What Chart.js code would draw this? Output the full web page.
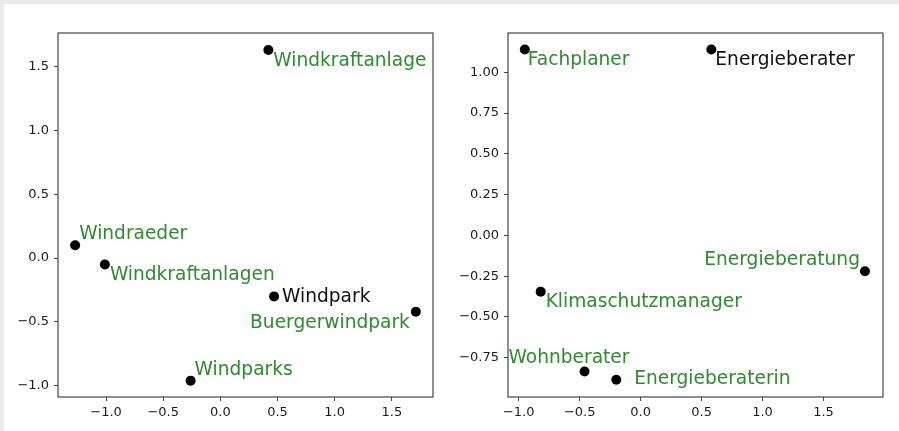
<!DOCTYPE html>
<html>
<head>
<meta charset="utf-8">
<script src="https://cdn.jsdelivr.net/npm/chart.js@4.4.1/dist/chart.umd.min.js"></script>
<style>
  html, body { margin: 0; padding: 0; background: #ebebeb; }
  #page { position: absolute; left: 4px; top: 4px; width: 895px; height: 427px; background: #fff; }
  .box { position: absolute; top: 0; height: 431px; }
  #left-box { left: 0; width: 450px; }
  #right-box { left: 450px; width: 449px; }
</style>
</head>
<body>
<div id="page"></div>
<div class="box" id="left-box"><canvas id="wind-chart"></canvas></div>
<div class="box" id="right-box"><canvas id="energy-chart"></canvas></div>
<script>
// Left panel: wind words
const windWords = ['Windkraftanlage', 'Windraeder', 'Windkraftanlagen', 'Windpark', 'Buergerwindpark', 'Windparks'];
const windX = [0.42, -1.27, -1.01, 0.47, 1.71, -0.26];
const windY = [1.63, 0.10, -0.05, -0.30, -0.42, -0.96];
const windXTicks = [-1.0, -0.5, 0.0, 0.5, 1.0, 1.5];
const windYTicks = [-1.0, -0.5, 0.0, 0.5, 1.0, 1.5];

// Right panel: energy advisor words
const energyWords = ['Fachplaner', 'Energieberater', 'Energieberatung', 'Klimaschutzmanager', 'Wohnberater', 'Energieberaterin'];
const energyX = [-0.95, 0.58, 1.84, -0.82, -0.46, -0.20];
const energyY = [1.14, 1.14, -0.22, -0.345, -0.835, -0.885];
const energyXTicks = [-1.0, -0.5, 0.0, 0.5, 1.0, 1.5];
const energyYTicks = [-0.75, -0.50, -0.25, 0.00, 0.25, 0.50, 0.75, 1.00];

// label placement (pixel offsets from the point, alignment, colour)
const GREEN = '#2e8b2e';
const windLabelStyle = [
  { dx: 5, dy: 16, align: 'left', color: GREEN },
  { dx: 4, dy: -6, align: 'left', color: GREEN },
  { dx: 5, dy: 16, align: 'left', color: GREEN },
  { dx: 8, dy: 6, align: 'left', color: '#111' },
  { dx: -6, dy: 16, align: 'right', color: GREEN },
  { dx: 4, dy: -6, align: 'left', color: GREEN }
];
const energyLabelStyle = [
  { dx: 3, dy: 16, align: 'left', color: GREEN },
  { dx: 4, dy: 16, align: 'left', color: '#111' },
  { dx: -5, dy: -6, align: 'right', color: GREEN },
  { dx: 5, dy: 15, align: 'left', color: GREEN },
  { dx: -76, dy: -9, align: 'left', color: GREEN },
  { dx: 18, dy: 4, align: 'left', color: GREEN }
];

const FONT = "'DejaVu Sans', sans-serif";

function fmt(decimals) {
  return v => Number(v).toFixed(decimals).replace('-', '\u2212');
}

// frame around the plot area + word labels
const framePlugin = {
  id: 'frame',
  afterDatasetsDraw(chart) {
    const { ctx, chartArea: a } = chart;
    ctx.save();
    ctx.strokeStyle = '#444';
    ctx.lineWidth = 1.2;
    ctx.strokeRect(a.left, a.top, a.right - a.left, a.bottom - a.top);
    ctx.restore();
  },
  afterDraw(chart) {
    const opts = chart.options.plugins.frame;
    const { ctx } = chart;
    const xs = chart.scales.x, ys = chart.scales.y;
    ctx.save();
    ctx.font = '18.6px ' + FONT;
    ctx.textBaseline = 'alphabetic';
    opts.words.forEach((w, i) => {
      const s = opts.styles[i];
      const px = xs.getPixelForValue(opts.xs[i]);
      const py = ys.getPixelForValue(opts.ys[i]);
      ctx.fillStyle = s.color;
      ctx.textAlign = s.align;
      ctx.fillText(w, px + s.dx, py + s.dy);
    });
    ctx.restore();
  }
};

function makeChart(id, words, xs, ys, xTicks, yTicks, styles, lim, yDec) {
  const ctx = document.getElementById(id);
  return new Chart(ctx.getContext('2d'), {
    type: 'scatter',
    data: {
      datasets: [{
        data: xs.map((x, i) => ({ x: x, y: ys[i] })),
        backgroundColor: '#000',
        borderWidth: 0,
        pointRadius: 5,
        pointHoverRadius: 5
      }]
    },
    options: {
      responsive: true,
      maintainAspectRatio: false,
      animation: false,
      events: [],
      layout: { padding: { top: 33, right: lim.padRight, left: 0, bottom: 0 } },
      plugins: {
        legend: { display: false },
        tooltip: { enabled: false },
        frame: { words: words, xs: xs, ys: ys, styles: styles }
      },
      scales: {
        x: {
          type: 'linear',
          min: lim.xMin, max: lim.xMax,
          afterBuildTicks: s => { s.ticks = xTicks.map(v => ({ value: v })); },
          afterFit: s => { s.height = 34; },
          border: { display: false },
          grid: { drawOnChartArea: false, drawTicks: true, tickLength: 4, tickWidth: 1, color: '#444' },
          ticks: { color: '#1a1a1a', font: { family: FONT, size: 13 }, padding: 4, maxRotation: 0, callback: fmt(1) }
        },
        y: {
          type: 'linear',
          min: lim.yMin, max: lim.yMax,
          afterBuildTicks: s => { s.ticks = yTicks.map(v => ({ value: v })); },
          afterFit: s => { s.width = 58; },
          border: { display: false },
          grid: { drawOnChartArea: false, drawTicks: true, tickLength: 4, tickWidth: 1, color: '#444' },
          ticks: { color: '#1a1a1a', font: { family: FONT, size: 13 }, padding: 5, callback: fmt(yDec) }
        }
      }
    },
    plugins: [framePlugin]
  });
}

makeChart('wind-chart', windWords, windX, windY, windXTicks, windYTicks, windLabelStyle,
  { xMin: -1.42, xMax: 1.86, yMin: -1.088, yMax: 1.763, padRight: 17 }, 1);
makeChart('energy-chart', energyWords, energyX, energyY, energyXTicks, energyYTicks, energyLabelStyle,
  { xMin: -1.088, xMax: 1.988, yMin: -0.991, yMax: 1.241, padRight: 16 }, 2);
</script>
</body>
</html>
